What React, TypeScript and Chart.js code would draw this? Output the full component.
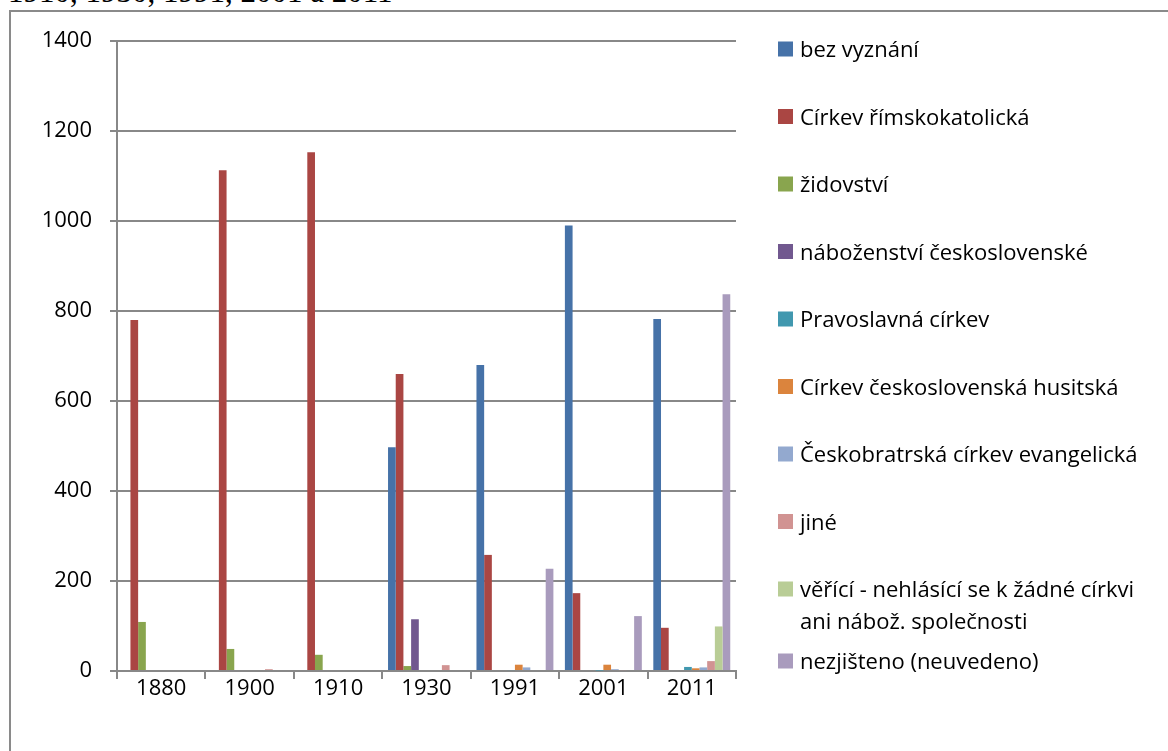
import React, { useEffect, useRef } from "react";
import { Chart, registerables } from "chart.js";

Chart.register(...registerables);

const years = ["1880", "1900", "1910", "1930", "1991", "2001", "2011"];

const seriesNames = [
  "bez vyznání",
  "Církev římskokatolická",
  "židovství",
  "náboženství československé",
  "Pravoslavná církev",
  "Církev československá husitská",
  "Českobratrská církev evangelická",
  "jiné",
  "věřící - nehlásící se k žádné církvi\nani nábož. společnosti",
  "nezjišteno (neuvedeno)",
];

const bezVyznani = [0, 0, 0, 497, 680, 990, 782];
const rimskokatolicka = [780, 1113, 1153, 660, 258, 173, 96];
const zidovstvi = [109, 49, 36, 11, 0, 0, 0];
const ceskoslovenske = [0, 0, 0, 115, 0, 0, 0];
const pravoslavna = [0, 0, 0, 0, 2, 1, 9];
const husitska = [0, 0, 0, 0, 14, 14, 6];
const evangelicka = [0, 0, 0, 0, 8, 4, 8];
const jine = [0, 4, 0, 13, 0, 2, 22];
const verici = [0, 0, 0, 0, 0, 0, 99];
const nezjisteno = [0, 0, 0, 0, 227, 122, 837];

const seriesValues = [
  bezVyznani,
  rimskokatolicka,
  zidovstvi,
  ceskoslovenske,
  pravoslavna,
  husitska,
  evangelicka,
  jine,
  verici,
  nezjisteno,
];

const colors = [
  "#4672A8",
  "#AA4643",
  "#89A54E",
  "#71588F",
  "#4198AF",
  "#DB843D",
  "#93A9CF",
  "#D19392",
  "#B9CD96",
  "#A99BBD",
];

const yTicks = [0, 200, 400, 600, 800, 1000, 1200, 1400];

const FONT = "'Open Sans', 'Noto Sans', sans-serif";
const GRID = "#888888";

const sideLegend = {
  id: "sideLegend",
  afterDraw(chart: any) {
    const ctx = chart.ctx;
    ctx.save();
    ctx.font = `22px ${FONT}`;
    ctx.textBaseline = "alphabetic";
    ctx.textAlign = "left";
    let extra = 0;
    chart.data.datasets.forEach((ds: any, i: number) => {
      const cy = 49 + 67.5 * i + extra;
      const lines = String(ds.label).split("\n");
      ctx.fillStyle = ds.backgroundColor;
      ctx.fillRect(778, cy - 7.5, 15, 15);
      ctx.fillStyle = "#000";
      lines.forEach((ln: string, j: number) => {
        ctx.fillText(ln, 800, cy + 8 + j * 32);
      });
      extra += (lines.length - 1) * 4.5;
    });
    ctx.restore();
  },
};

export default function App() {
  const ref = useRef<HTMLCanvasElement | null>(null);

  useEffect(() => {
    if (!ref.current) return;
    const chart = new Chart(ref.current, {
      type: "bar",
      data: {
        labels: years,
        datasets: seriesNames.map((name, i) => ({
          label: name,
          data: seriesValues[i],
          backgroundColor: colors[i],
          borderWidth: 0,
          categoryPercentage: 0.87,
          barPercentage: 1.0,
        })),
      },
      options: {
        responsive: false,
        animation: false,
        layout: { padding: { left: 0, top: 41, right: 432, bottom: 50 } },
        plugins: {
          legend: { display: false },
          tooltip: { enabled: false },
          title: { display: false },
        },
        scales: {
          x: {
            offset: true,
            grid: {
              offset: true,
              drawOnChartArea: false,
              drawTicks: true,
              tickLength: 8,
              color: GRID,
              lineWidth: 2,
            },
            border: { display: true, color: GRID, width: 2 },
            ticks: {
              color: "#000",
              font: { family: FONT, size: 22, lineHeight: 1 },
              padding: -1,
              maxRotation: 0,
            },
            afterFit: (s: any) => {
              s.height = 30;
            },
          },
          y: {
            min: 0,
            max: 1400,
            afterBuildTicks: (s: any) => {
              s.ticks = yTicks.map((v) => ({ value: v }));
            },
            grid: {
              color: GRID,
              lineWidth: 2,
              tickLength: 7,
            },
            border: { display: true, color: GRID, width: 2 },
            ticks: {
              color: "#000",
              font: { family: FONT, size: 22 },
              padding: 18,
              callback: (v: any) => String(v),
            },
            afterFit: (s: any) => {
              s.width = 117;
            },
          },
        },
      },
      plugins: [sideLegend],
    });
    return () => chart.destroy();
  }, []);

  return (
    <div
      style={{
        position: "fixed",
        left: 0,
        top: 0,
        width: 1168,
        height: 751,
        overflow: "hidden",
        background: "#fff",
      }}
    >
      <div
        style={{
          position: "absolute",
          left: 8,
          top: -24,
          fontFamily: "'Liberation Serif', 'Times New Roman', serif",
          fontSize: 31,
          lineHeight: "31px",
          whiteSpace: "nowrap",
          color: "#000",
        }}
      >
        1910, 1930, 1991, 2001 a 2011
      </div>
      <div
        style={{
          position: "absolute",
          left: 9,
          top: 10,
          width: 1200,
          height: 800,
          border: "2px solid #8a8a8a",
          boxSizing: "border-box",
        }}
      />
      <canvas
        ref={ref}
        width={1168}
        height={751}
        style={{ position: "absolute", left: 0, top: 0, width: 1168, height: 751 }}
      />
    </div>
  );
}
